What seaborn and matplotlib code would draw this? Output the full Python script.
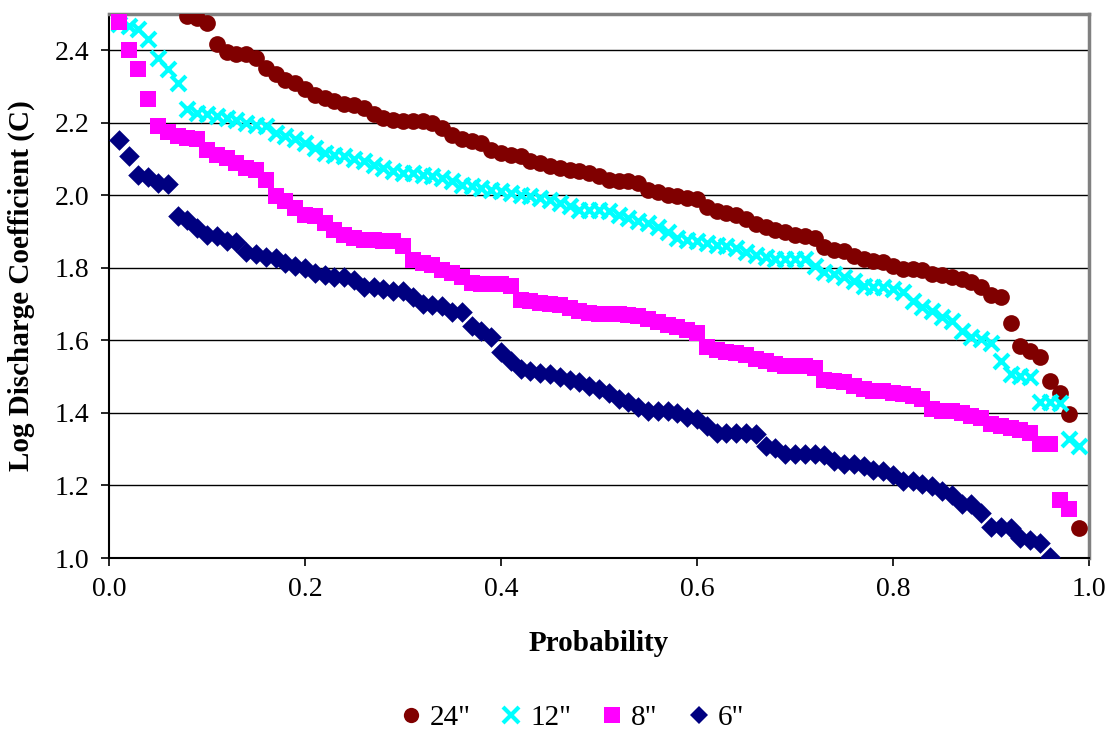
import numpy as np
import pandas as pd
import matplotlib
matplotlib.use("Agg")
import matplotlib.pyplot as plt
import seaborn as sns
from matplotlib.lines import Line2D

# ---- data ----
series_names = ['24"', '12"', '8"', '6"']

# first plotted rank of each series (points ranked in steps of 0.01 probability)
first_rank_24 = 8
first_rank_12 = 1
first_rank_8 = 1
first_rank_6 = 1

logc_24 = [2.495, 2.490, 2.474,
           2.417, 2.394, 2.389, 2.389, 2.380, 2.352, 2.334, 2.318, 2.311, 2.292,
           2.278, 2.269, 2.260, 2.251, 2.248, 2.241, 2.223, 2.214, 2.209, 2.206,
           2.205, 2.204, 2.200, 2.186, 2.165, 2.154, 2.149, 2.145, 2.126, 2.117,
           2.112, 2.108, 2.094, 2.089, 2.080, 2.076, 2.071, 2.066, 2.062, 2.053,
           2.043, 2.039, 2.039, 2.034, 2.015, 2.008, 2.000, 1.997, 1.994, 1.990,
           1.968, 1.958, 1.951, 1.947, 1.935, 1.920, 1.914, 1.905, 1.900, 1.892,
           1.887, 1.882, 1.857, 1.850, 1.847, 1.834, 1.825, 1.820, 1.816, 1.806,
           1.797, 1.797, 1.793, 1.783, 1.779, 1.774, 1.770, 1.760, 1.747, 1.724,
           1.719, 1.647, 1.585, 1.571, 1.553, 1.488, 1.456, 1.396, 1.083]

logc_12 = [2.472, 2.467, 2.458, 2.430, 2.380, 2.348, 2.311, 2.237, 2.228, 2.223,
           2.218, 2.214, 2.209, 2.200, 2.195, 2.191, 2.172, 2.163, 2.154, 2.145,
           2.131, 2.117, 2.112, 2.108, 2.099, 2.094, 2.085, 2.076, 2.066, 2.062,
           2.062, 2.057, 2.053, 2.048, 2.039, 2.029, 2.025, 2.020, 2.016, 2.011,
           2.006, 2.002, 1.997, 1.993, 1.988, 1.979, 1.970, 1.960, 1.960, 1.960,
           1.956, 1.947, 1.937, 1.928, 1.924, 1.914, 1.900, 1.882, 1.877, 1.873,
           1.868, 1.863, 1.859, 1.854, 1.845, 1.836, 1.829, 1.825, 1.825, 1.825,
           1.824, 1.806, 1.788, 1.783, 1.774, 1.765, 1.751, 1.747, 1.747, 1.742,
           1.733, 1.710, 1.691, 1.682, 1.664, 1.654, 1.627, 1.608, 1.604, 1.594,
           1.544, 1.507, 1.502, 1.498, 1.429, 1.429, 1.427, 1.327, 1.309]

logc_8 = [2.479, 2.400, 2.347, 2.267, 2.192, 2.176, 2.163, 2.158, 2.154, 2.126,
          2.112, 2.103, 2.089, 2.076, 2.071, 2.043, 1.997, 1.983, 1.965, 1.947,
          1.942, 1.924, 1.905, 1.891, 1.882, 1.877, 1.877, 1.873, 1.873, 1.859,
          1.822, 1.813, 1.808, 1.794, 1.785, 1.776, 1.758, 1.756, 1.756, 1.755,
          1.750, 1.712, 1.708, 1.704, 1.700, 1.697, 1.690, 1.680, 1.676, 1.674,
          1.674, 1.673, 1.671, 1.668, 1.658, 1.652, 1.643, 1.637, 1.628, 1.620,
          1.583, 1.573, 1.569, 1.566, 1.560, 1.548, 1.542, 1.535, 1.530, 1.530,
          1.530, 1.525, 1.490, 1.488, 1.484, 1.475, 1.465, 1.461, 1.460, 1.456,
          1.452, 1.447, 1.438, 1.410, 1.406, 1.405, 1.400, 1.392, 1.387, 1.369,
          1.364, 1.358, 1.353, 1.346, 1.315, 1.313, 1.161, 1.134]

logc_6 = [2.152, 2.108, 2.057, 2.051, 2.034, 2.032, 1.942, 1.933, 1.910, 1.891,
          1.887, 1.873, 1.870, 1.845, 1.839, 1.831, 1.827, 1.813, 1.804, 1.800,
          1.785, 1.780, 1.776, 1.776, 1.767, 1.748, 1.748, 1.741, 1.735, 1.735,
          1.720, 1.700, 1.698, 1.695, 1.677, 1.677, 1.640, 1.627, 1.610, 1.567,
          1.544, 1.520, 1.516, 1.511, 1.507, 1.500, 1.490, 1.484, 1.475, 1.465,
          1.456, 1.438, 1.429, 1.415, 1.405, 1.405, 1.405, 1.400, 1.390, 1.383,
          1.364, 1.346, 1.346, 1.346, 1.346, 1.341, 1.309, 1.304, 1.286, 1.286,
          1.286, 1.286, 1.283, 1.267, 1.258, 1.258, 1.253, 1.242, 1.240, 1.230,
          1.212, 1.212, 1.203, 1.198, 1.184, 1.175, 1.150, 1.148, 1.124, 1.085,
          1.085, 1.083, 1.055, 1.050, 1.040, 1.003]

x_ticks = [0.0, 0.2, 0.4, 0.6, 0.8, 1.0]
y_ticks = [1.0, 1.2, 1.4, 1.6, 1.8, 2.0, 2.2, 2.4]


def prob(first_rank, values):
    ranks = np.arange(first_rank, first_rank + len(values))
    return ranks / 100.0


frames = []
for name, first, vals in [('24"', first_rank_24, logc_24),
                          ('12"', first_rank_12, logc_12),
                          ('8"', first_rank_8, logc_8),
                          ('6"', first_rank_6, logc_6)]:
    frames.append(pd.DataFrame({"Probability": prob(first, vals),
                                "LogC": vals, "Size": name}))
df = pd.concat(frames, ignore_index=True)

# ---- style ----
sns.set_style("white")
plt.rcParams['font.family'] = ['Liberation Serif', 'DejaVu Serif']
plt.rcParams['text.color'] = 'black'
plt.rcParams['axes.labelcolor'] = 'black'
plt.rcParams['xtick.color'] = 'black'
plt.rcParams['ytick.color'] = 'black'

colors = {'24"': '#800000', '12"': '#00FFFF', '8"': '#FF00FF', '6"': '#000080'}
markers = {'24"': 'o', '12"': 'x', '8"': 's', '6"': 'D'}
sizes = {'24"': 145, '12"': 115, '8"': 125, '6"': 110}

fig = plt.figure(figsize=(11.13, 7.36), dpi=100)
ax = fig.add_axes([109 / 1113, 1 - 558 / 736, (1089 - 109) / 1113, (558 - 14) / 736])

for name in series_names:
    sub = df[df["Size"] == name]
    if markers[name] == 'x':
        sns.scatterplot(data=sub, x="Probability", y="LogC", marker='x',
                        color=colors[name], s=sizes[name], linewidth=3,
                        ax=ax, legend=False, zorder=3)
    else:
        sns.scatterplot(data=sub, x="Probability", y="LogC", marker=markers[name],
                        color=colors[name], s=sizes[name], linewidth=0,
                        ax=ax, legend=False, zorder=3)

ax.set_xlim(0.0, 1.0)
ax.set_ylim(1.0, 2.5)
ax.set_xticks(x_ticks)
ax.set_xticklabels([f"{t:.1f}" for t in x_ticks], fontsize=20, color='black')
ax.set_yticks(y_ticks)
ax.set_yticklabels([f"{t:.1f}" for t in y_ticks], fontsize=20, color='black')

ax.yaxis.grid(True, color='black', linewidth=1.0)
ax.xaxis.grid(False)
ax.set_axisbelow(True)

ax.tick_params(axis='both', direction='out', length=6, width=1.2, color='black',
               left=True, bottom=True, pad=8)

for side in ['left', 'bottom']:
    ax.spines[side].set_color('black')
    ax.spines[side].set_linewidth(1.5)
for side in ['top', 'right']:
    ax.spines[side].set_color('#808080')
    ax.spines[side].set_linewidth(2.5)
    ax.spines[side].set_visible(True)

ax.set_xlabel("Probability", fontsize=21, fontweight='bold', labelpad=20, color='black')
ax.set_ylabel("Log Discharge Coefficient (C)", fontsize=21, fontweight='bold',
              labelpad=14, color='black')

handles = []
for name in series_names:
    if markers[name] == 'x':
        h = Line2D([], [], linestyle='none', marker='x', color=colors[name],
                   markersize=11, markeredgewidth=3)
    else:
        h = Line2D([], [], linestyle='none', marker=markers[name],
                   markerfacecolor=colors[name], markeredgewidth=0,
                   markersize=11 if markers[name] != 'D' else 9.5)
    handles.append(h)

leg = fig.legend(handles, series_names, loc='center',
                 bbox_to_anchor=(570 / 1113, 1 - 718 / 736),
                 ncol=4, frameon=False, fontsize=21, handletextpad=0.15,
                 columnspacing=0.9, handlelength=1.0)
for t in leg.get_texts():
    t.set_color('black')

fig.savefig("out.png", dpi=100)
